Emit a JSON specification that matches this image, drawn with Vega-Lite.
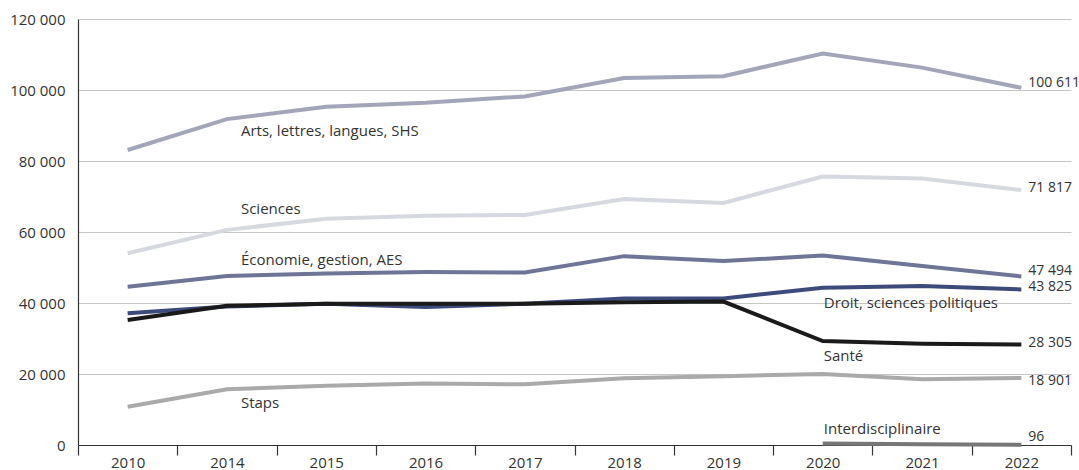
{
  "$schema": "https://vega.github.io/schema/vega-lite/v6.json",
  "autosize": {"type": "none"},
  "width": 993,
  "height": 426,
  "padding": {"left": 78, "top": 19, "right": 8, "bottom": 25},
  "background": "white",
  "config": {
    "locale": {"number": {"decimal": ",", "thousands": " ", "grouping": [3], "currency": ["", " €"]}},
    "view": {"stroke": null},
    "font": "Open Sans",
    "text": {"font": "Open Sans"}
  },
  "datasets": {
    "effectifs": [
      {"annee": "2010", "serie": "Arts, lettres, langues, SHS", "valeur": 83100},
      {"annee": "2014", "serie": "Arts, lettres, langues, SHS", "valeur": 91800},
      {"annee": "2015", "serie": "Arts, lettres, langues, SHS", "valeur": 95300},
      {"annee": "2016", "serie": "Arts, lettres, langues, SHS", "valeur": 96400},
      {"annee": "2017", "serie": "Arts, lettres, langues, SHS", "valeur": 98200},
      {"annee": "2018", "serie": "Arts, lettres, langues, SHS", "valeur": 103400},
      {"annee": "2019", "serie": "Arts, lettres, langues, SHS", "valeur": 103900},
      {"annee": "2020", "serie": "Arts, lettres, langues, SHS", "valeur": 110300},
      {"annee": "2021", "serie": "Arts, lettres, langues, SHS", "valeur": 106300},
      {"annee": "2022", "serie": "Arts, lettres, langues, SHS", "valeur": 100611},
      {"annee": "2010", "serie": "Sciences", "valeur": 54000},
      {"annee": "2014", "serie": "Sciences", "valeur": 60600},
      {"annee": "2015", "serie": "Sciences", "valeur": 63700},
      {"annee": "2016", "serie": "Sciences", "valeur": 64600},
      {"annee": "2017", "serie": "Sciences", "valeur": 64800},
      {"annee": "2018", "serie": "Sciences", "valeur": 69300},
      {"annee": "2019", "serie": "Sciences", "valeur": 68200},
      {"annee": "2020", "serie": "Sciences", "valeur": 75600},
      {"annee": "2021", "serie": "Sciences", "valeur": 75100},
      {"annee": "2022", "serie": "Sciences", "valeur": 71817},
      {"annee": "2010", "serie": "Économie, gestion, AES", "valeur": 44600},
      {"annee": "2014", "serie": "Économie, gestion, AES", "valeur": 47600},
      {"annee": "2015", "serie": "Économie, gestion, AES", "valeur": 48300},
      {"annee": "2016", "serie": "Économie, gestion, AES", "valeur": 48700},
      {"annee": "2017", "serie": "Économie, gestion, AES", "valeur": 48600},
      {"annee": "2018", "serie": "Économie, gestion, AES", "valeur": 53200},
      {"annee": "2019", "serie": "Économie, gestion, AES", "valeur": 51800},
      {"annee": "2020", "serie": "Économie, gestion, AES", "valeur": 53400},
      {"annee": "2021", "serie": "Économie, gestion, AES", "valeur": 50400},
      {"annee": "2022", "serie": "Économie, gestion, AES", "valeur": 47494},
      {"annee": "2010", "serie": "Droit, sciences politiques", "valeur": 37100},
      {"annee": "2014", "serie": "Droit, sciences politiques", "valeur": 39000},
      {"annee": "2015", "serie": "Droit, sciences politiques", "valeur": 39800},
      {"annee": "2016", "serie": "Droit, sciences politiques", "valeur": 38900},
      {"annee": "2017", "serie": "Droit, sciences politiques", "valeur": 39800},
      {"annee": "2018", "serie": "Droit, sciences politiques", "valeur": 41300},
      {"annee": "2019", "serie": "Droit, sciences politiques", "valeur": 41300},
      {"annee": "2020", "serie": "Droit, sciences politiques", "valeur": 44300},
      {"annee": "2021", "serie": "Droit, sciences politiques", "valeur": 44800},
      {"annee": "2022", "serie": "Droit, sciences politiques", "valeur": 43825},
      {"annee": "2010", "serie": "Santé", "valeur": 35200},
      {"annee": "2014", "serie": "Santé", "valeur": 39200},
      {"annee": "2015", "serie": "Santé", "valeur": 39800},
      {"annee": "2016", "serie": "Santé", "valeur": 39800},
      {"annee": "2017", "serie": "Santé", "valeur": 39800},
      {"annee": "2018", "serie": "Santé", "valeur": 40200},
      {"annee": "2019", "serie": "Santé", "valeur": 40400},
      {"annee": "2020", "serie": "Santé", "valeur": 29300},
      {"annee": "2021", "serie": "Santé", "valeur": 28500},
      {"annee": "2022", "serie": "Santé", "valeur": 28305},
      {"annee": "2010", "serie": "Staps", "valeur": 10800},
      {"annee": "2014", "serie": "Staps", "valeur": 15700},
      {"annee": "2015", "serie": "Staps", "valeur": 16700},
      {"annee": "2016", "serie": "Staps", "valeur": 17300},
      {"annee": "2017", "serie": "Staps", "valeur": 17100},
      {"annee": "2018", "serie": "Staps", "valeur": 18800},
      {"annee": "2019", "serie": "Staps", "valeur": 19400},
      {"annee": "2020", "serie": "Staps", "valeur": 20000},
      {"annee": "2021", "serie": "Staps", "valeur": 18500},
      {"annee": "2022", "serie": "Staps", "valeur": 18901},
      {"annee": "2020", "serie": "Interdisciplinaire", "valeur": 400},
      {"annee": "2021", "serie": "Interdisciplinaire", "valeur": 200},
      {"annee": "2022", "serie": "Interdisciplinaire", "valeur": 96}
    ],
    "etiquettes": [
      {"serie": "Arts, lettres, langues, SHS", "annee": "2014", "valeur": 87000},
      {"serie": "Sciences", "annee": "2014", "valeur": 65000},
      {"serie": "Économie, gestion, AES", "annee": "2014", "valeur": 50700},
      {"serie": "Staps", "annee": "2014", "valeur": 10400},
      {"serie": "Droit, sciences politiques", "annee": "2020", "valeur": 38700},
      {"serie": "Santé", "annee": "2020", "valeur": 23800},
      {"serie": "Interdisciplinaire", "annee": "2020", "valeur": 3000}
    ]
  },
  "layer": [
    {
      "data": {"name": "effectifs"},
      "mark": {"type": "line", "strokeWidth": 4, "strokeCap": "butt", "strokeJoin": "miter"},
      "encoding": {
        "x": {
          "field": "annee", "type": "ordinal", "bandPosition": 0.5,
          "scale": {"type": "band", "paddingInner": 0, "paddingOuter": 0},
          "axis": {
            "title": null, "labelAngle": 0, "tickBand": "extent", "grid": false,
            "domainColor": "#333333", "domainWidth": 1.2, "tickColor": "#333333", "tickWidth": 1.2, "tickSize": 10,
            "labelFont": "Open Sans", "labelFontSize": 15, "labelColor": "#333333", "labelPadding": 0
          }
        },
        "y": {
          "field": "valeur", "type": "quantitative",
          "scale": {"domain": [0, 120000], "nice": false},
          "axis": {
            "title": null, "values": [0, 20000, 40000, 60000, 80000, 100000, 120000],
            "labelExpr": "format(datum.value, ',')",
            "ticks": false, "domainColor": "#333333", "domainWidth": 1.2,
            "gridColor": "#c6c6c6", "gridWidth": 1.2,
            "labelFont": "Open Sans", "labelFontSize": 15, "labelColor": "#333333", "labelPadding": 13
          }
        },
        "color": {
          "field": "serie", "type": "nominal", "legend": null,
          "scale": {
            "domain": ["Arts, lettres, langues, SHS", "Sciences", "Économie, gestion, AES", "Droit, sciences politiques", "Santé", "Staps", "Interdisciplinaire"],
            "range": ["#a2a6b8", "#d6d9e0", "#6e7597", "#3d4a7c", "#1a1a1a", "#aaaaaa", "#777777"]
          }
        },
        "order": {"field": "annee"}
      }
    },
    {
      "data": {"name": "effectifs"},
      "transform": [{"filter": "datum.annee == '2022' && (datum.serie == 'Arts, lettres, langues, SHS' || datum.serie == 'Économie, gestion, AES')"}],
      "mark": {"type": "text", "align": "left", "baseline": "middle", "dx": 7, "dy": -5, "fontSize": 14, "color": "#333333", "font": "Open Sans"},
      "encoding": {
        "x": {"field": "annee", "type": "ordinal", "bandPosition": 0.5},
        "y": {"field": "valeur", "type": "quantitative"},
        "text": {"field": "valeur", "type": "quantitative", "format": ","}
      }
    },
    {
      "data": {"name": "effectifs"},
      "transform": [{"filter": "datum.annee == '2022' && (datum.serie == 'Sciences' || datum.serie == 'Droit, sciences politiques' || datum.serie == 'Santé')"}],
      "mark": {"type": "text", "align": "left", "baseline": "middle", "dx": 7, "dy": -2, "fontSize": 14, "color": "#333333", "font": "Open Sans"},
      "encoding": {
        "x": {"field": "annee", "type": "ordinal", "bandPosition": 0.5},
        "y": {"field": "valeur", "type": "quantitative"},
        "text": {"field": "valeur", "type": "quantitative", "format": ","}
      }
    },
    {
      "data": {"name": "effectifs"},
      "transform": [{"filter": "datum.annee == '2022' && datum.serie == 'Staps'"}],
      "mark": {"type": "text", "align": "left", "baseline": "middle", "dx": 7, "dy": 3, "fontSize": 14, "color": "#333333", "font": "Open Sans"},
      "encoding": {
        "x": {"field": "annee", "type": "ordinal", "bandPosition": 0.5},
        "y": {"field": "valeur", "type": "quantitative"},
        "text": {"field": "valeur", "type": "quantitative", "format": ","}
      }
    },
    {
      "data": {"name": "effectifs"},
      "transform": [{"filter": "datum.annee == '2022' && datum.serie == 'Interdisciplinaire'"}],
      "mark": {"type": "text", "align": "left", "baseline": "middle", "dx": 7, "dy": -8, "fontSize": 14, "color": "#333333", "font": "Open Sans"},
      "encoding": {
        "x": {"field": "annee", "type": "ordinal", "bandPosition": 0.5},
        "y": {"field": "valeur", "type": "quantitative"},
        "text": {"field": "valeur", "type": "quantitative", "format": ","}
      }
    },
    {
      "data": {"name": "etiquettes"},
      "transform": [{"filter": "datum.annee == '2014'"}],
      "mark": {"type": "text", "align": "left", "baseline": "alphabetic", "dx": 14, "fontSize": 15, "color": "#333333", "font": "Open Sans"},
      "encoding": {
        "x": {"field": "annee", "type": "ordinal", "bandPosition": 0.5},
        "y": {"field": "valeur", "type": "quantitative"},
        "text": {"field": "serie", "type": "nominal"}
      }
    },
    {
      "data": {"name": "etiquettes"},
      "transform": [{"filter": "datum.annee == '2020'"}],
      "mark": {"type": "text", "align": "left", "baseline": "alphabetic", "dx": 1, "fontSize": 15, "color": "#333333", "font": "Open Sans"},
      "encoding": {
        "x": {"field": "annee", "type": "ordinal", "bandPosition": 0.5},
        "y": {"field": "valeur", "type": "quantitative"},
        "text": {"field": "serie", "type": "nominal"}
      }
    }
  ]
}
